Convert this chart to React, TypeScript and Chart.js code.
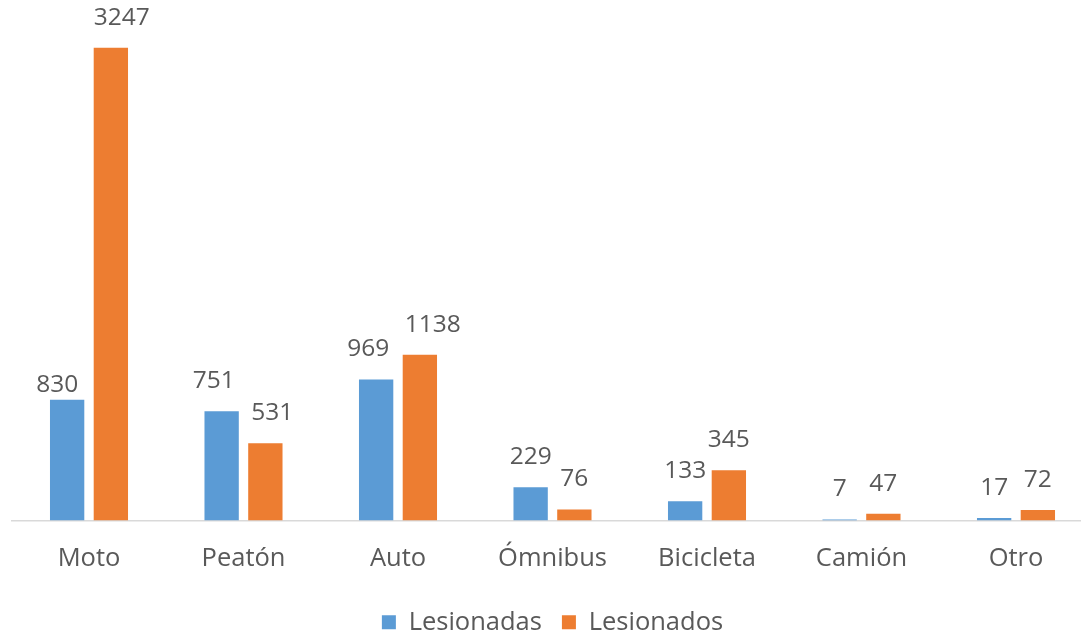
import React, { useEffect, useRef } from "react";
import { Chart, registerables } from "chart.js";

Chart.register(...registerables);

const categories = ["Moto", "Peatón", "Auto", "Ómnibus", "Bicicleta", "Camión", "Otro"];
const lesionadas = [830, 751, 969, 229, 133, 7, 17];
const lesionados = [3247, 531, 1138, 76, 345, 47, 72];
const seriesNames = ["Lesionadas", "Lesionados"];

const BLUE = "#5B9BD5";
const ORANGE = "#ED7D31";
const TEXT = "#595959";
const FONT = '"Open Sans", "Noto Sans", sans-serif';

const valueLabels = {
  id: "valueLabels",
  afterDatasetsDraw(chart: any, _args: any, opts: any) {
    const ctx = chart.ctx;
    ctx.save();
    ctx.font = `${opts.size}px ${opts.family}`;
    ctx.fillStyle = opts.color;
    ctx.textAlign = "center";
    ctx.textBaseline = "middle";
    chart.data.datasets.forEach((ds: any, di: number) => {
      const meta = chart.getDatasetMeta(di);
      meta.data.forEach((bar: any, i: number) => {
        const n = (opts.nudges && opts.nudges[di] && opts.nudges[di][i]) || [0, 0];
        ctx.fillText(String(ds.data[i]), bar.x + n[0], bar.y - opts.offset + n[1]);
      });
    });
    ctx.restore();
  },
};

export default function App() {
  const ref = useRef<HTMLCanvasElement | null>(null);

  useEffect(() => {
    if (!ref.current) return;
    const chart = new Chart(ref.current, {
      type: "bar",
      data: {
        labels: categories,
        datasets: [
          {
            label: seriesNames[0],
            data: lesionadas,
            backgroundColor: BLUE,
            categoryPercentage: 0.566,
            barPercentage: 0.785,
          },
          {
            label: seriesNames[1],
            data: lesionados,
            backgroundColor: ORANGE,
            categoryPercentage: 0.566,
            barPercentage: 0.785,
          },
        ],
      },
      options: {
        responsive: false,
        animation: false,
        layout: { padding: { left: 11.75, right: 6.75, top: 11, bottom: -9 } },
        scales: {
          x: {
            grid: { display: false, drawTicks: false },
            border: { display: true, color: "#D9D9D9", width: 1.5 },
            ticks: { color: TEXT, font: { family: FONT, size: 25.5 }, padding: 23 },
            afterFit: (scale: any) => {
              scale.height = 69;
            },
          },
          y: { display: false, min: 0, max: 3500 },
        },
        plugins: {
          legend: {
            position: "bottom",
            labels: {
              color: TEXT,
              font: { family: FONT, size: 25.5 },
              boxWidth: 14,
              boxHeight: 14,
              padding: 20,
            },
          },
          tooltip: { enabled: false },
          valueLabels: {
            size: 24.5,
            family: FONT,
            color: TEXT,
            offset: 30,
            nudges: [
              [[-10, 15], [-8, 0], [-8, 0], [0, 0], [0, 0], [0, 0], [0, 0]],
              [[11, 0], [7, 0], [13, 0], [0, 0], [0, 0], [0, 0], [0, 0]],
            ],
          },
        } as any,
      },
      plugins: [valueLabels],
    });
    return () => chart.destroy();
  }, []);

  return (
    <div
      style={{
        position: "fixed",
        left: 0,
        top: 0,
        width: 1081,
        height: 636,
        overflow: "hidden",
        background: "#ffffff",
      }}
    >
      <canvas ref={ref} width={1100} height={636} style={{ display: "block" }} />
    </div>
  );
}
